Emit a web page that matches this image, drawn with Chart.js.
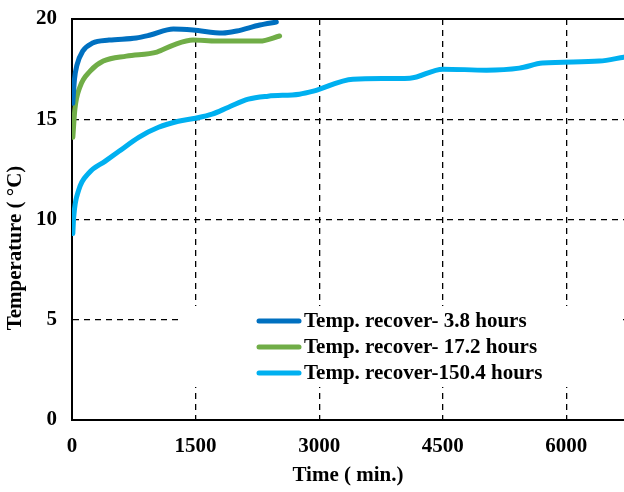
<!DOCTYPE html>
<html>
<head>
<meta charset="utf-8">
<script src="https://cdn.jsdelivr.net/npm/chart.js@4.4.1/dist/chart.umd.min.js"></script>
<style>
html,body{margin:0;padding:0;background:#fff;}
#wrap{width:624px;height:492px;}
</style>
</head>
<body>
<div id="wrap"><canvas id="c" width="624" height="492"></canvas></div>
<script>
// ---- data ----
const labels = ["Temp. recover- 3.8 hours", "Temp. recover- 17.2 hours", "Temp. recover-150.4 hours"];

const timeA = [10, 30, 60, 130, 250, 450, 780, 950, 1230, 1470, 1830, 2000, 2280, 2480];
const tempA = [15.8, 17.0, 17.7, 18.4, 18.8, 18.95, 19.05, 19.2, 19.5, 19.45, 19.3, 19.4, 19.7, 19.85];

const timeB = [10, 35, 95, 220, 380, 660, 1030, 1230, 1470, 1750, 2280, 2520];
const tempB = [14.1, 15.5, 16.6, 17.4, 17.9, 18.15, 18.35, 18.7, 18.95, 18.9, 18.9, 19.15];

const timeC = [10, 20, 80, 200, 400, 570, 810, 1050, 1290, 1500, 1700, 1900, 2140, 2380, 2760, 2930, 3410, 4100, 4500, 5030, 5430, 5710, 6400, 6700];
const tempC = [9.3, 10.1, 11.45, 12.3, 12.9, 13.4, 14.1, 14.6, 14.9, 15.05, 15.25, 15.6, 16.0, 16.15, 16.25, 16.4, 17.0, 17.05, 17.5, 17.45, 17.55, 17.8, 17.9, 18.1];

const xTicks = [0, 1500, 3000, 4500, 6000];
const yTicks = [0, 5, 10, 15, 20];
const xTitle = "Time ( min.)";
const yTitle = "Temperature ( \u00B0C)";

const colors = ["#0070C0", "#70AD47", "#00B0F0"];

function pts(xs, ys){ return xs.map((x,i)=>({x:x, y:ys[i]})); }

const FONT = "'Liberation Serif', 'Times New Roman', serif";
const FS = 21;

const legendPlugin = {
  id: 'inLegend',
  afterDatasetsDraw(chart){
    const ctx = chart.ctx;
    const a = chart.chartArea;
    ctx.save();
    // white box behind legend
    ctx.fillStyle = '#fff';
    ctx.fillRect(178, 306, 442, 81);
    ctx.font = "bold " + FS + "px " + FONT;
    ctx.textBaseline = 'middle';
    ctx.textAlign = 'left';
    chart.data.datasets.forEach((ds, i) => {
      const yy = 321 + i * 26;
      ctx.strokeStyle = ds.borderColor;
      ctx.lineWidth = 5;
      ctx.lineCap = 'round';
      ctx.beginPath();
      ctx.moveTo(259, yy);
      ctx.lineTo(299, yy);
      ctx.stroke();
      ctx.fillStyle = '#000';
      ctx.fillText(ds.label, 304, yy + 1);
    });
    // solid top border
    ctx.strokeStyle = '#000';
    ctx.lineWidth = 2;
    ctx.lineCap = 'butt';
    ctx.beginPath();
    ctx.moveTo(a.left - 1, a.top);
    ctx.lineTo(a.right, a.top);
    ctx.stroke();
    // y-axis title
    ctx.translate(16, 248);
    ctx.rotate(-Math.PI / 2);
    ctx.textAlign = 'center';
    ctx.textBaseline = 'middle';
    ctx.fillStyle = '#000';
    ctx.fillText(yTitle, 0, 0);
    ctx.restore();
  }
};

new Chart(document.getElementById('c'), {
  type: 'line',
  data: {
    datasets: [
      { label: labels[0], data: pts(timeA, tempA), borderColor: colors[0] },
      { label: labels[1], data: pts(timeB, tempB), borderColor: colors[1] },
      { label: labels[2], data: pts(timeC, tempC), borderColor: colors[2] }
    ].map(d => Object.assign(d, { borderWidth: 5, pointRadius: 0, fill: false, cubicInterpolationMode: 'monotone', borderCapStyle: 'round' }))
  },
  options: {
    responsive: false,
    animation: false,
    devicePixelRatio: 1,
    layout: { padding: { top: 19, right: 0, left: 0, bottom: 0 } },
    plugins: { legend: { display: false }, tooltip: { enabled: false } },
    scales: {
      x: {
        type: 'linear', min: 0, max: 6700,
        afterBuildTicks: s => { s.ticks = xTicks.map(v => ({ value: v })); },
        afterFit: s => { s.height = 72; s.paddingLeft = 0; s.paddingRight = 0; },
        ticks: { font: { family: FONT, size: FS, weight: 'bold' }, color: '#000', padding: 14, maxRotation: 0, callback: v => String(v) },
        grid: { color: c => (c.tick && c.tick.value === 0) ? 'rgba(0,0,0,0)' : '#000', lineWidth: 1.3, drawTicks: false },
        border: { color: '#000', width: 2, dash: [6, 5] },
        title: { display: true, text: xTitle, font: { family: FONT, size: FS, weight: 'bold' }, color: '#000', padding: { top: 12 } }
      },
      y: {
        min: 0, max: 20,
        afterBuildTicks: s => { s.ticks = yTicks.map(v => ({ value: v })); },
        afterFit: s => { s.width = 72; s.paddingTop = 0; s.paddingBottom = 0; },
        ticks: { font: { family: FONT, size: FS, weight: 'bold' }, color: '#000', padding: 15, callback: v => String(v) },
        grid: { color: c => (c.tick && c.tick.value === 0) ? 'rgba(0,0,0,0)' : '#000', lineWidth: 1.3, drawTicks: false },
        border: { color: '#000', width: 2, dash: [6, 5] }
      }
    }
  },
  plugins: [legendPlugin]
});
</script>
</body>
</html>
